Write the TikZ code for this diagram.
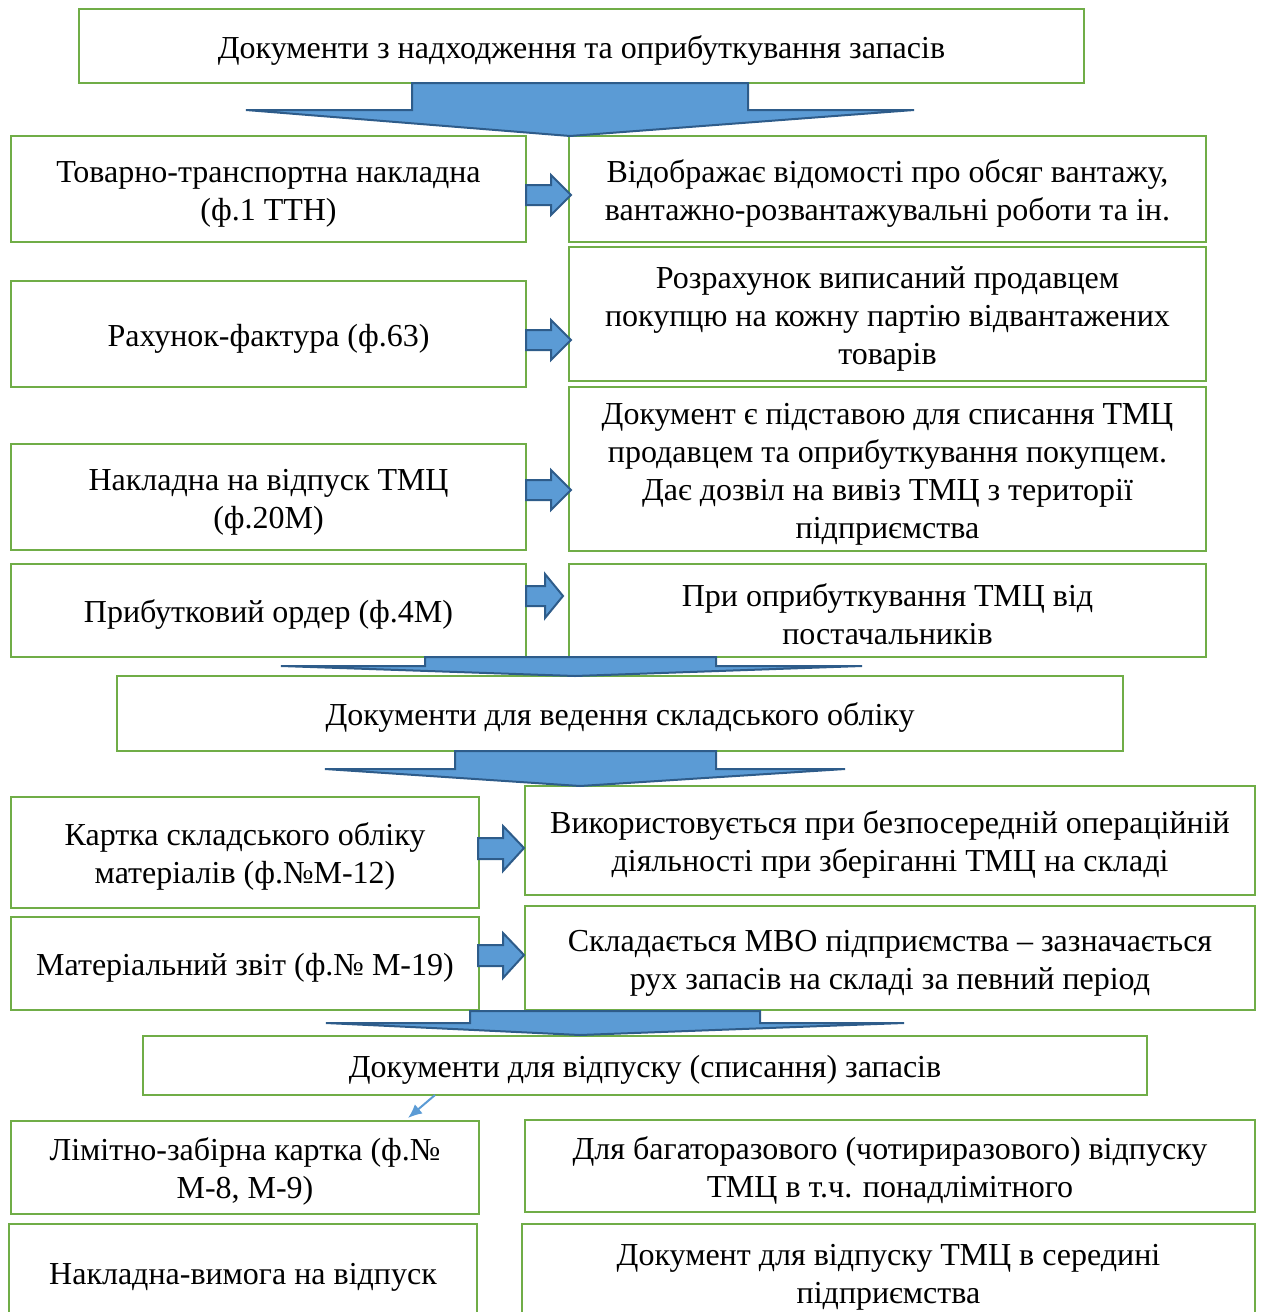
\documentclass[tikz,border=0pt]{standalone}
\usepackage{fontspec}
\setmainfont{Liberation Serif}
\usepackage{xcolor}
\usepackage{tikz}
\usetikzlibrary{arrows.meta}

\definecolor{boxgreen}{HTML}{70AD47}
\definecolor{arrfill}{HTML}{5B9BD5}
\definecolor{arredge}{HTML}{2E5C8A}

\newcommand{\firstline}{\rule{0pt}{31pt}}

\tikzset{
  docbox/.style={draw=boxgreen, line width=2.5pt, inner sep=0pt, align=center,
    font=\fontsize{32}{38}\selectfont,
    execute at begin node={\firstline}},
  blockarr/.style={fill=arrfill, draw=arredge, line width=2pt, line join=miter},
  thinarr/.style={draw=arrfill, line width=2pt, -{Latex[length=14pt, width=12pt]}}
}

\begin{document}
\begin{tikzpicture}[x=1pt, y=-1pt]
        \useasboundingbox (0, 0) rectangle (1262, 1312);
        \clip (0, 0) rectangle (1262, 1312);

        % upper part
        \node[docbox, minimum width=1005, minimum height=74] (receipt) at (581.5, 46)
            {Документи з надходження та оприбуткування запасів};

        \node[docbox, minimum width=515, minimum height=106] (ttn) at (268.5, 189)
            {\firstline Товарно-транспортна накладна\\(ф.1 ТТН)};
        \node[docbox, minimum width=637, minimum height=106] (ttninfo) at (887.5, 189)
            {\firstline Відображає відомості про обсяг вантажу,\\вантажно-розвантажувальні роботи та ін.};

        \node[docbox, minimum width=515, minimum height=106] (invoice) at (268.5, 334)
            {Рахунок-фактура (ф.63)};
        \node[docbox, minimum width=637, minimum height=134] (invoiceinfo) at (887.5, 314)
            {\firstline Розрахунок виписаний продавцем\\покупцю на кожну партію відвантажених\\товарів};

        \node[docbox, minimum width=515, minimum height=106] (waybill) at (268.5, 497)
            {\firstline Накладна на відпуск ТМЦ\\(ф.20М)};
        \node[docbox, minimum width=637, minimum height=164] (waybillinfo) at (887.5, 469)
            {\firstline Документ є підставою для списання ТМЦ\\продавцем та оприбуткування покупцем.\\Дає дозвіл на вивіз ТМЦ з території\\підприємства};

        \node[docbox, minimum width=515, minimum height=93] (order) at (268.5, 610.5)
            {Прибутковий ордер (ф.4М)};
        \node[docbox, minimum width=637, minimum height=93] (orderinfo) at (887.5, 610.5)
            {\firstline При оприбуткування ТМЦ від\\постачальників};

        % middle part
        \node[docbox, minimum width=1006, minimum height=75] (store) at (620, 713.5)
            {Документи для ведення складського обліку};

        \node[docbox, minimum width=468, minimum height=111] (card) at (245, 852.5)
            {\firstline Картка складського обліку\\матеріалів (ф.№М-12)};
        \node[docbox, minimum width=730, minimum height=109] (cardinfo) at (890, 840.5)
            {\firstline Використовується при безпосередній операційній\\діяльності при зберіганні ТМЦ на складі};

        \node[docbox, minimum width=468, minimum height=93] (report) at (245, 963.5)
            {Матеріальний звіт (ф.№ М-19)};
        \node[docbox, minimum width=730, minimum height=104] (reportinfo) at (890, 958)
            {\firstline Складається МВО підприємства – зазначається\\рух запасів на складі за певний період};

        % lower part
        \node[docbox, minimum width=1004, minimum height=59] (issue) at (645, 1065.5)
            {Документи для відпуску (списання) запасів};

        \node[docbox, minimum width=468, minimum height=93] (limit) at (245, 1167.5)
            {\firstline Лімітно-забірна картка (ф.№\\М-8, М-9)};
        \node[docbox, minimum width=730, minimum height=92] (limitinfo) at (890, 1166)
            {\firstline Для багаторазового (чотириразового) відпуску\\ТМЦ в т.ч. понадлімітного};

        \node[docbox, minimum width=468, minimum height=96] (requis) at (243, 1272)
            {Накладна-вимога на відпуск};
        \node[docbox, minimum width=733, minimum height=96] (requisinfo) at (888.5, 1272)
            {\firstline Документ для відпуску ТМЦ в середині\\підприємства};

        % big arrows
        \filldraw[blockarr] (412, 83) -- (748, 83) -- (748, 110) -- (914, 110)
            -- (570, 136) -- (246, 110) -- (412, 110) -- cycle;
        \filldraw[blockarr] (425, 657) -- (716, 657) -- (716, 666) -- (862, 666)
            -- (575, 676) -- (281, 666) -- (425, 666) -- cycle;
        \filldraw[blockarr] (455, 751) -- (716, 751) -- (716, 769) -- (845, 769)
            -- (580, 786) -- (325, 769) -- (455, 769) -- cycle;
        \filldraw[blockarr] (470, 1011) -- (760, 1011) -- (760, 1023) -- (904, 1023)
            -- (580, 1035) -- (326, 1023) -- (470, 1023) -- cycle;

        % small arrows
        \filldraw[blockarr] (526, 185) -- (551, 185) -- (551, 175) -- (571, 195)
            -- (551, 215) -- (551, 205) -- (526, 205) -- cycle;
        \filldraw[blockarr] (526, 330) -- (551, 330) -- (551, 320) -- (571, 340)
            -- (551, 360) -- (551, 350) -- (526, 350) -- cycle;
        \filldraw[blockarr] (526, 480) -- (551, 480) -- (551, 470) -- (571, 490)
            -- (551, 510) -- (551, 500) -- (526, 500) -- cycle;
        \filldraw[blockarr] (526, 586) -- (545, 586) -- (545, 574) -- (563, 596)
            -- (545, 618) -- (545, 606) -- (526, 606) -- cycle;
        \filldraw[blockarr] (478, 838) -- (503, 838) -- (503, 826) -- (524, 848)
            -- (503, 871) -- (503, 859) -- (478, 859) -- cycle;
        \filldraw[blockarr] (478, 945) -- (503, 945) -- (503, 933) -- (524, 955)
            -- (503, 978) -- (503, 966) -- (478, 966) -- cycle;

        % thin arrow
        \coordinate (issueout) at (435, 1095);
        \coordinate (limitin) at (408, 1118);
        \draw[thinarr] (issueout) -- (limitin);
\end{tikzpicture}
\end{document}
